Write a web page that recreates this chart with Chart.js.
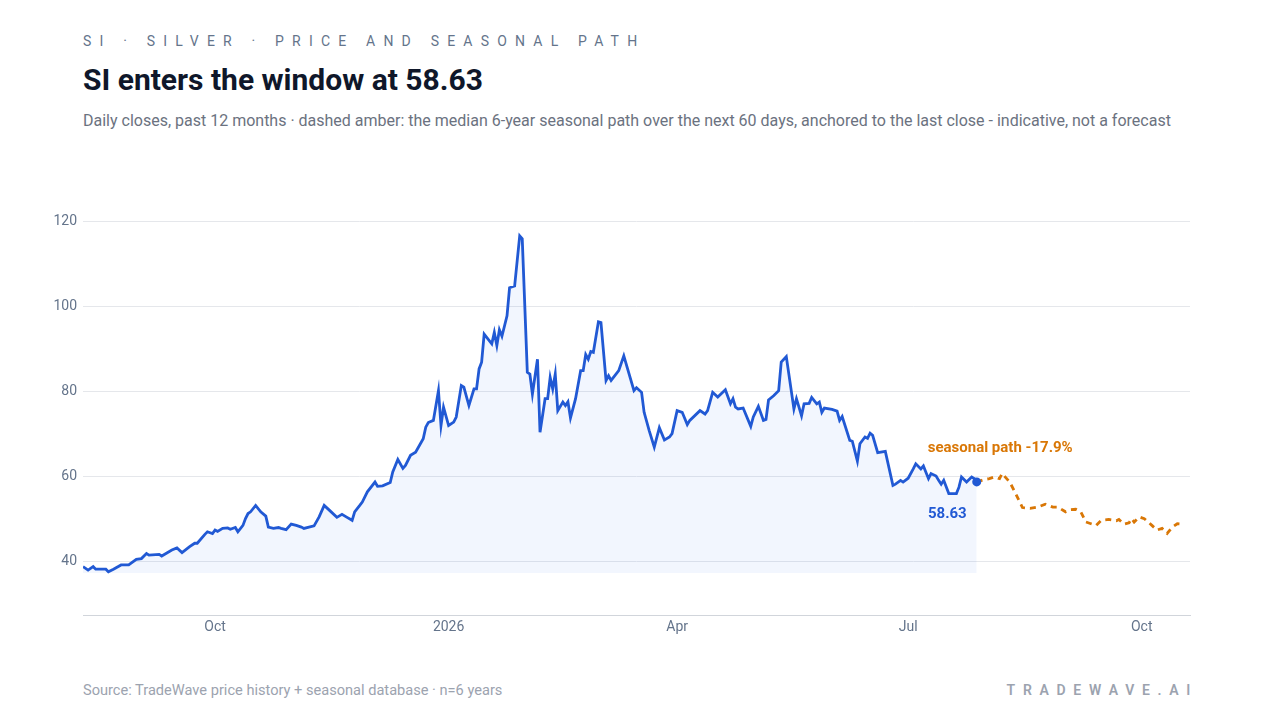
<!DOCTYPE html>
<html>
<head>
<meta charset="utf-8">
<script src="https://cdn.jsdelivr.net/npm/chart.js@4.4.1/dist/chart.umd.min.js"></script>
<style>
  html, body { margin: 0; padding: 0; background: #fff; }
  body { width: 1280px; height: 720px; position: relative; overflow: hidden; font-family: Roboto, "Noto Sans", sans-serif; }
  .kicker { position: absolute; left: 83px; top: 32px; font-size: 14px; line-height: 18px; letter-spacing: 8.2px; color: #64748b; white-space: nowrap; }
  .title { position: absolute; left: 83px; top: 61px; font-size: 30px; line-height: 38px; font-weight: 700; color: #0f172a; white-space: nowrap; }
  .sub { position: absolute; left: 83px; top: 111px; font-size: 16px; line-height: 20px; color: #6b7280; white-space: nowrap; }
  .source { position: absolute; left: 83px; top: 681px; font-size: 14.6px; line-height: 18px; color: #9ca3af; white-space: nowrap; }
  .brand { position: absolute; right: 82px; top: 681px; font-size: 14px; line-height: 18px; font-weight: 600; letter-spacing: 7.7px; color: #9ca3af; white-space: nowrap; }
  .wrap { position: absolute; left: 0; top: 200px; width: 1280px; height: 440px; }
</style>
</head>
<body>
<div class="kicker">SI · SILVER · PRICE AND SEASONAL PATH</div>
<div class="title">SI enters the window at 58.63</div>
<div class="sub">Daily closes, past 12 months · dashed amber: the median 6-year seasonal path over the next 60 days, anchored to the last close - indicative, not a forecast</div>
<div class="wrap"><canvas id="chart" width="1280" height="440"></canvas></div>
<div class="source">Source: TradeWave price history + seasonal database · n=6 years</div>
<div class="brand">TRADEWAVE.AI</div>

<script>
// daily closes
const closeDates = [
  '2025-08-10','2025-08-12','2025-08-14','2025-08-15','2025-08-19','2025-08-20','2025-08-22','2025-08-25','2025-08-28','2025-08-31',
  '2025-09-02','2025-09-04','2025-09-05','2025-09-09','2025-09-10','2025-09-14','2025-09-16','2025-09-18','2025-09-21','2025-09-23',
  '2025-09-24','2025-09-27','2025-09-28','2025-09-30','2025-10-01','2025-10-02','2025-10-04','2025-10-06','2025-10-07','2025-10-09',
  '2025-10-10','2025-10-12','2025-10-13','2025-10-14','2025-10-15','2025-10-17','2025-10-19','2025-10-21','2025-10-22','2025-10-24',
  '2025-10-26','2025-10-27','2025-10-29','2025-10-31','2025-11-02','2025-11-04','2025-11-05','2025-11-07','2025-11-09','2025-11-11',
  '2025-11-13','2025-11-15','2025-11-18','2025-11-20','2025-11-22','2025-11-24','2025-11-25','2025-11-27','2025-11-28','2025-11-30',
  '2025-12-03','2025-12-04','2025-12-06','2025-12-09','2025-12-10','2025-12-12','2025-12-14','2025-12-15','2025-12-17','2025-12-19',
  '2025-12-22','2025-12-23','2025-12-24','2025-12-26','2025-12-28','2025-12-29','2025-12-30','2026-01-01','2026-01-03','2026-01-04',
  '2026-01-06','2026-01-07','2026-01-09','2026-01-11','2026-01-12','2026-01-13','2026-01-14','2026-01-15','2026-01-18','2026-01-19',
  '2026-01-20','2026-01-21','2026-01-22','2026-01-24','2026-01-25','2026-01-27','2026-01-29','2026-01-30','2026-02-01','2026-02-02',
  '2026-02-03','2026-02-05','2026-02-06','2026-02-08','2026-02-09','2026-02-10','2026-02-11','2026-02-12','2026-02-13','2026-02-15',
  '2026-02-16','2026-02-17','2026-02-18','2026-02-20','2026-02-22','2026-02-23','2026-02-24','2026-02-25','2026-02-26','2026-02-27',
  '2026-03-01','2026-03-02','2026-03-04','2026-03-05','2026-03-06','2026-03-09','2026-03-11','2026-03-15','2026-03-16','2026-03-18',
  '2026-03-19','2026-03-21','2026-03-23','2026-03-25','2026-03-27','2026-03-29','2026-03-30','2026-04-01','2026-04-03','2026-04-05',
  '2026-04-06','2026-04-10','2026-04-12','2026-04-13','2026-04-15','2026-04-17','2026-04-20','2026-04-22','2026-04-23','2026-04-24',
  '2026-04-25','2026-04-27','2026-04-30','2026-05-01','2026-05-03','2026-05-05','2026-05-06','2026-05-07','2026-05-09','2026-05-11',
  '2026-05-12','2026-05-14','2026-05-17','2026-05-18','2026-05-20','2026-05-21','2026-05-23','2026-05-24','2026-05-26','2026-05-27',
  '2026-05-28','2026-05-29','2026-06-01','2026-06-03','2026-06-04','2026-06-05','2026-06-08','2026-06-09','2026-06-11','2026-06-12',
  '2026-06-14','2026-06-15','2026-06-16','2026-06-17','2026-06-19','2026-06-22','2026-06-25','2026-06-26','2026-06-28','2026-06-29',
  '2026-07-01','2026-07-03','2026-07-04','2026-07-06','2026-07-07','2026-07-09','2026-07-10','2026-07-12','2026-07-13','2026-07-14',
  '2026-07-15','2026-07-17','2026-07-20','2026-07-21','2026-07-22','2026-07-24','2026-07-26','2026-07-27','2026-07-28'
];
const closes = [
  38.7, 37.9, 38.7, 38.1, 38.1, 37.5, 38.1, 39.1, 39.1, 40.4,
  40.6, 41.8, 41.4, 41.6, 41.2, 42.6, 43.1, 42.0, 43.4, 44.2,
  44.2, 46.3, 46.9, 46.5, 47.3, 47.0, 47.7, 47.8, 47.5, 47.9,
  46.9, 48.4, 50.0, 51.2, 51.6, 53.1, 51.6, 50.6, 48.0, 47.7,
  47.9, 47.7, 47.4, 48.7, 48.4, 48.0, 47.7, 48.0, 48.3, 50.4,
  53.1, 52.0, 50.3, 51.0, 50.3, 49.6, 51.6, 53.1, 53.9, 56.3,
  58.6, 57.6, 57.7, 58.5, 61.0, 63.9, 61.8, 62.5, 64.9, 65.6,
  68.8, 71.5, 72.6, 73.1, 80.1, 71.9, 76.2, 71.9, 72.7, 73.9,
  81.3, 80.9, 76.6, 80.5, 80.5, 85.2, 86.8, 93.4, 91.1, 93.8,
  90.7, 94.4, 92.9, 97.7, 104.3, 104.7, 116.5, 115.8, 84.4, 84.0,
  79.3, 87.5, 70.3, 78.2, 78.2, 83.2, 80.5, 84.0, 75.4, 77.4,
  76.6, 77.5, 73.7, 78.2, 84.8, 84.8, 88.6, 87.5, 89.3, 89.1,
  96.3, 96.1, 82.5, 83.6, 82.5, 84.8, 88.3, 80.1, 80.8, 79.7,
  75.0, 70.7, 66.8, 71.4, 68.5, 69.2, 70.0, 75.4, 75.0, 72.1,
  73.1, 75.4, 74.6, 75.4, 79.7, 78.6, 80.3, 77.0, 78.2, 76.2,
  75.8, 76.0, 71.7, 73.9, 76.4, 73.1, 73.3, 77.9, 78.9, 80.1,
  86.8, 88.1, 75.8, 78.2, 74.2, 77.0, 77.1, 78.5, 77.0, 77.4,
  75.0, 76.0, 75.7, 75.3, 73.1, 74.0, 68.4, 68.2, 63.5, 67.6,
  69.2, 68.9, 70.1, 69.6, 65.5, 65.8, 57.8, 58.1, 59.0, 58.6,
  59.5, 61.7, 62.9, 61.7, 62.4, 59.4, 60.6, 60.0, 59.0, 58.1,
  59.0, 55.9, 55.9, 57.4, 59.8, 58.6, 59.8, 59.4, 58.63
];

// median seasonal path, anchored to the last close
const pathDates = [
  '2026-07-28','2026-07-31','2026-08-02','2026-08-04','2026-08-06','2026-08-07','2026-08-10','2026-08-12','2026-08-15','2026-08-18',
  '2026-08-21','2026-08-24','2026-08-27','2026-08-29','2026-09-01','2026-09-03','2026-09-05','2026-09-07','2026-09-09','2026-09-11',
  '2026-09-13','2026-09-15','2026-09-18','2026-09-21','2026-09-22','2026-09-24','2026-09-26','2026-09-27','2026-09-28','2026-09-30',
  '2026-10-02','2026-10-05','2026-10-07','2026-10-09','2026-10-11','2026-10-13','2026-10-15','2026-10-17'
];
const pathValues = [
  58.63, 59.2, 59.4, 59.8, 59.4, 60.6, 58.6, 56.3, 52.6, 52.4,
  52.7, 53.4, 52.7, 52.7, 51.6, 52.1, 52.2, 51.6, 49.2, 48.8,
  48.4, 49.6, 49.8, 49.5, 49.8, 48.7, 49.0, 50.0, 49.2, 50.4,
  50.0, 48.4, 47.3, 47.7, 46.5, 48.0, 48.8, 48.7
];

const xTickDates = ['2025-10-01', '2026-01-01', '2026-04-01', '2026-07-01', '2026-10-01'];
const xTickLabels = ['Oct', '2026', 'Apr', 'Jul', 'Oct'];
const yTicks = [40, 60, 80, 100, 120];

const lastLabel = '58.63';
const pathLabel = 'seasonal path -17.9%';

const BLUE = '#2159d4';
const AMBER = '#d97706';
const FONT = 'Roboto, "Noto Sans", sans-serif';

const toDay = (s) => Date.parse(s + 'T00:00:00Z') / 86400000;

const closeData = closeDates.map((d, i) => ({ x: toDay(d), y: closes[i] }));
const pathData = pathDates.map((d, i) => ({ x: toDay(d), y: pathValues[i] }));

// dot + labels at the last close
const lastClosePlugin = {
  id: 'lastClose',
  afterDatasetsDraw(chart) {
    const pts = chart.getDatasetMeta(0).data;
    const p = pts[pts.length - 1];
    const ctx = chart.ctx;
    ctx.save();
    ctx.beginPath();
    ctx.arc(p.x, p.y, 4.5, 0, Math.PI * 2);
    ctx.fillStyle = BLUE;
    ctx.fill();
    ctx.font = '700 15px ' + FONT;
    ctx.textBaseline = 'middle';
    ctx.fillStyle = BLUE;
    ctx.textAlign = 'right';
    ctx.fillText(lastLabel, p.x - 10, p.y + 32);
    ctx.fillStyle = AMBER;
    ctx.textAlign = 'left';
    ctx.fillText(pathLabel, p.x - 49, p.y - 34);
    ctx.restore();
  }
};

new Chart(document.getElementById('chart'), {
  type: 'line',
  data: {
    datasets: [
      {
        data: closeData,
        borderColor: BLUE,
        borderWidth: 2.8,
        pointRadius: 0,
        tension: 0,
        fill: { value: 37.2 },
        backgroundColor: 'rgba(37, 99, 235, 0.06)'
      },
      {
        data: pathData,
        borderColor: AMBER,
        borderWidth: 2.8,
        borderDash: [6, 5],
        pointRadius: 0,
        tension: 0,
        fill: false
      }
    ]
  },
  options: {
    responsive: false,
    animation: false,
    layout: { padding: { top: 21, right: 90, left: 0, bottom: 0 } },
    plugins: { legend: { display: false }, tooltip: { enabled: false } },
    scales: {
      x: {
        type: 'linear',
        min: toDay('2025-08-10'),
        max: toDay('2026-10-20'),
        grid: { display: false, drawTicks: false },
        border: { display: true, color: '#d1d5db', width: 1 },
        afterBuildTicks: (s) => { s.ticks = xTickDates.map((d) => ({ value: toDay(d) })); },
        afterFit: (s) => { s.height = 25; },
        ticks: {
          autoSkip: false,
          maxRotation: 0,
          padding: 4,
          color: '#64748b',
          font: { family: FONT, size: 14 },
          callback: (v, i) => xTickLabels[i]
        }
      },
      y: {
        min: 27.33,
        max: 120,
        grid: { color: '#e5e7eb', drawTicks: false },
        border: { display: false },
        afterBuildTicks: (s) => { s.ticks = yTicks.map((v) => ({ value: v })); },
        afterFit: (s) => { s.width = 83; },
        ticks: {
          padding: 6,
          color: '#64748b',
          font: { family: FONT, size: 14 }
        }
      }
    }
  },
  plugins: [lastClosePlugin]
});
</script>
</body>
</html>
